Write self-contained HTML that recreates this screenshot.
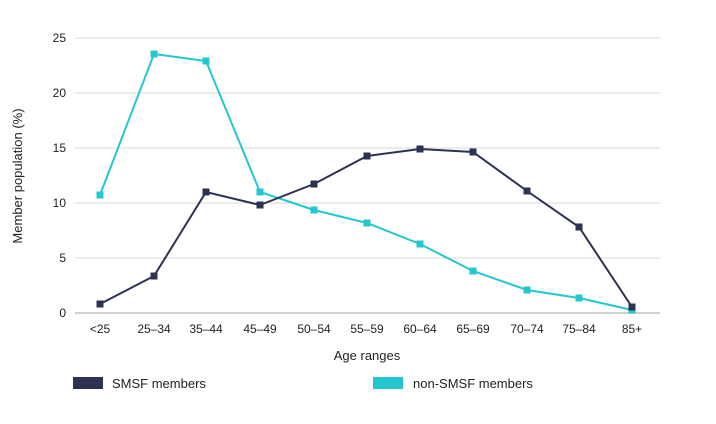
<!DOCTYPE html>
<html><head><meta charset="utf-8"><style>body{margin:0;background:#fff}svg{display:block;font-family:"Liberation Sans",sans-serif}</style></head><body>
<svg width="716" height="424" xmlns="http://www.w3.org/2000/svg">
<g stroke="#d9d9d9" stroke-width="1">
<line x1="75" y1="38" x2="660" y2="38"/><line x1="75" y1="93" x2="660" y2="93"/><line x1="75" y1="148" x2="660" y2="148"/><line x1="75" y1="203" x2="660" y2="203"/><line x1="75" y1="258" x2="660" y2="258"/>
</g>
<line x1="75" y1="313" x2="660" y2="313" stroke="#cfcfcf" stroke-width="2"/>
<g font-size="12" fill="#222" text-anchor="end">
<text x="66" y="42">25</text><text x="66" y="97">20</text><text x="66" y="152">15</text><text x="66" y="207">10</text><text x="66" y="262">5</text><text x="66" y="317">0</text>
</g>
<text transform="translate(22,176) rotate(-90)" font-size="13" fill="#222" text-anchor="middle">Member population (%)</text>
<g font-size="12" fill="#222" text-anchor="middle">
<text x="100" y="333">&lt;25</text><text x="154" y="333">25–34</text><text x="206" y="333">35–44</text><text x="260" y="333">45–49</text><text x="314" y="333">50–54</text><text x="367" y="333">55–59</text><text x="420" y="333">60–64</text><text x="473" y="333">65–69</text><text x="527" y="333">70–74</text><text x="579" y="333">75–84</text><text x="632" y="333">85+</text>
</g>
<text x="367" y="360" font-size="13" fill="#222" text-anchor="middle">Age ranges</text>
<polyline fill="none" stroke="#22c7d0" stroke-width="2" points="100,195 154,54 206,61 260,192 314,210 367,223 420,244 473,271 527,290 579,298 632,310"/>
<g fill="#22c7d0">
<rect x="96.5" y="191.5" width="7" height="7"/><rect x="150.5" y="50.5" width="7" height="7"/><rect x="202.5" y="57.5" width="7" height="7"/><rect x="256.5" y="188.5" width="7" height="7"/><rect x="310.5" y="206.5" width="7" height="7"/><rect x="363.5" y="219.5" width="7" height="7"/><rect x="416.5" y="240.5" width="7" height="7"/><rect x="469.5" y="267.5" width="7" height="7"/><rect x="523.5" y="286.5" width="7" height="7"/><rect x="575.5" y="294.5" width="7" height="7"/><rect x="628.5" y="306.5" width="7" height="7"/>
</g>
<polyline fill="none" stroke="#2b3252" stroke-width="2" points="100,304 154,276 206,192 260,205 314,184 367,156 420,149 473,152 527,191 579,227 632,307"/>
<g fill="#2b3252">
<rect x="96.5" y="300.5" width="7" height="7"/><rect x="150.5" y="272.5" width="7" height="7"/><rect x="202.5" y="188.5" width="7" height="7"/><rect x="256.5" y="201.5" width="7" height="7"/><rect x="310.5" y="180.5" width="7" height="7"/><rect x="363.5" y="152.5" width="7" height="7"/><rect x="416.5" y="145.5" width="7" height="7"/><rect x="469.5" y="148.5" width="7" height="7"/><rect x="523.5" y="187.5" width="7" height="7"/><rect x="575.5" y="223.5" width="7" height="7"/><rect x="628.5" y="303.5" width="7" height="7"/>
</g>
<rect x="73" y="377" width="30" height="12" fill="#2b3252"/>
<text x="112" y="388" font-size="13" fill="#222">SMSF members</text>
<rect x="373" y="377" width="30" height="12" fill="#22c7d0"/>
<text x="413" y="388" font-size="13" fill="#222">non-SMSF members</text>
</svg>
</body></html>
